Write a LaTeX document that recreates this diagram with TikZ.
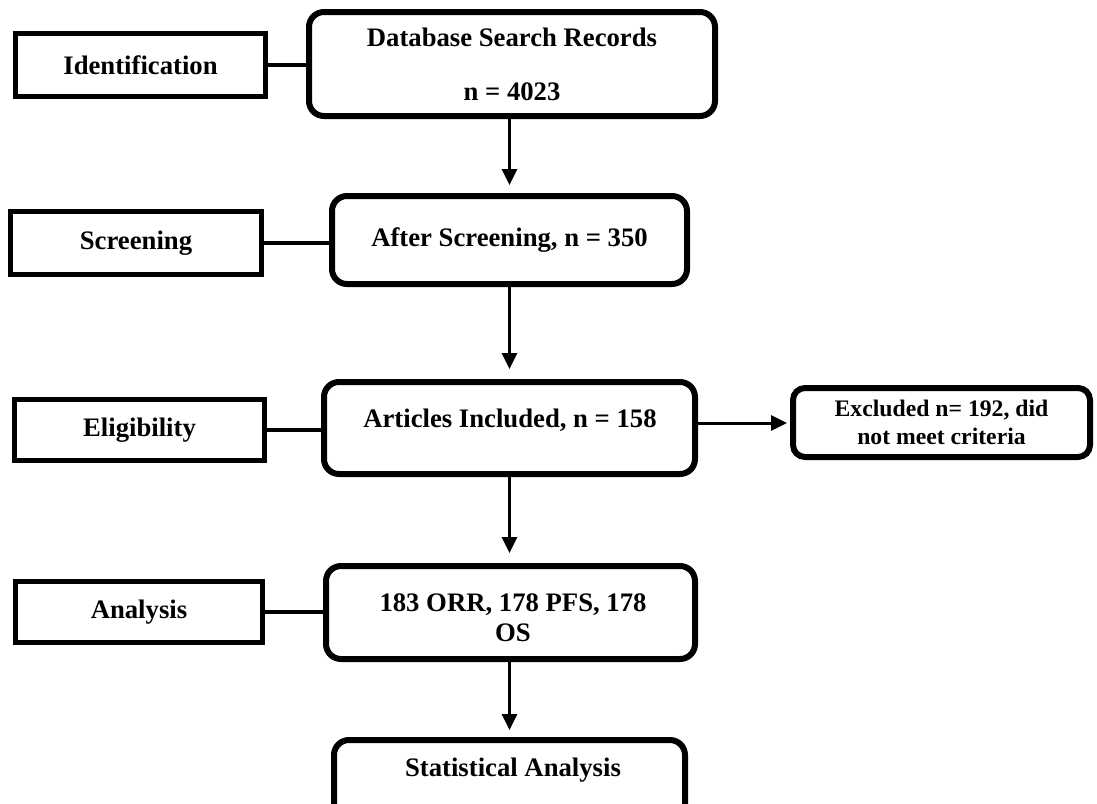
\documentclass[tikz,border=0pt]{standalone}
\usepackage{fontspec}
\setmainfont{Liberation Serif}
\usetikzlibrary{arrows.meta}
\begin{document}
\begin{tikzpicture}[x=1pt,y=-1pt,
  every node/.style={font=\fontsize{26.7}{32}\selectfont\bfseries, inner sep=0pt},
  lbox/.style={draw, line width=4.5pt},
  rbox/.style={draw, line width=6pt, rounded corners=15pt},
  link/.style={line width=3.5pt},
  arr/.style={line width=3pt, -{Triangle[length=16pt,width=15pt]}}]
\fill[white] (0,0) rectangle (1097,803);
\useasboundingbox (0,0) rectangle (1097,803);

% stage labels
\node[lbox, minimum width=250pt, minimum height=63pt] (ident) at (140.5,65) {Identification};
\node[lbox, minimum width=251pt, minimum height=63pt] (screen) at (136,243) {Screening};
\node[lbox, minimum width=250pt, minimum height=61pt] (elig) at (139.5,430) {Eligibility};
\node[lbox, minimum width=247pt, minimum height=61pt] (anal) at (139,612) {Analysis};

% main flow
\node[rbox, minimum width=406pt, minimum height=104pt, align=center] (db) at (512,64) {Database Search Records\\[22pt]n = 4023};
\node[rbox, minimum width=355pt, minimum height=88pt] (scr2) at (509.5,240) {After Screening, n = 350};
\node[rbox, minimum width=371pt, minimum height=92pt] (art) at (509.5,428) {};
\node (artT) at (510,420) {Articles Included, n = 158};
\node[rbox, minimum width=297pt, minimum height=69pt, rounded corners=12pt, align=center,
      font=\fontsize{23.7}{28}\selectfont\bfseries] (excl) at (941.5,422.5) {Excluded n= 192, did\\not meet criteria};
\node[rbox, minimum width=369pt, minimum height=93pt] (orr) at (510.5,612.5) {};
\node[align=center, font=\fontsize{26.7}{30}\selectfont\bfseries] (orrT) at (513,618) {183 ORR, 178 PFS, 178\\OS};
\node[rbox, minimum width=351pt, minimum height=100pt] (stat) at (509.5,790) {};
\node (statT) at (513,770) {Statistical Analysis};

% connectors
\draw[link] (ident.east) -- (ident.east -| db.west);
\draw[link] (screen.east) -- (screen.east -| scr2.west);
\draw[link] (elig.east) -- (elig.east -| art.west);
\draw[link] (anal.east) -- (anal.east -| orr.west);

\draw[arr, shorten >=8pt] (db.south -| scr2.north) -- (scr2.north);
\draw[arr, shorten >=10pt] (scr2.south) -- (art.north);
\draw[arr, shorten >=10pt] (art.south) -- (art.south |- orr.north);
\draw[arr, shorten >=7pt] (orr.south -| stat.north) -- (stat.north);
\draw[arr, shorten >=3pt] ([yshift=5pt]art.east) -- ([yshift=5pt]art.east -| excl.west);
\end{tikzpicture}
\end{document}
